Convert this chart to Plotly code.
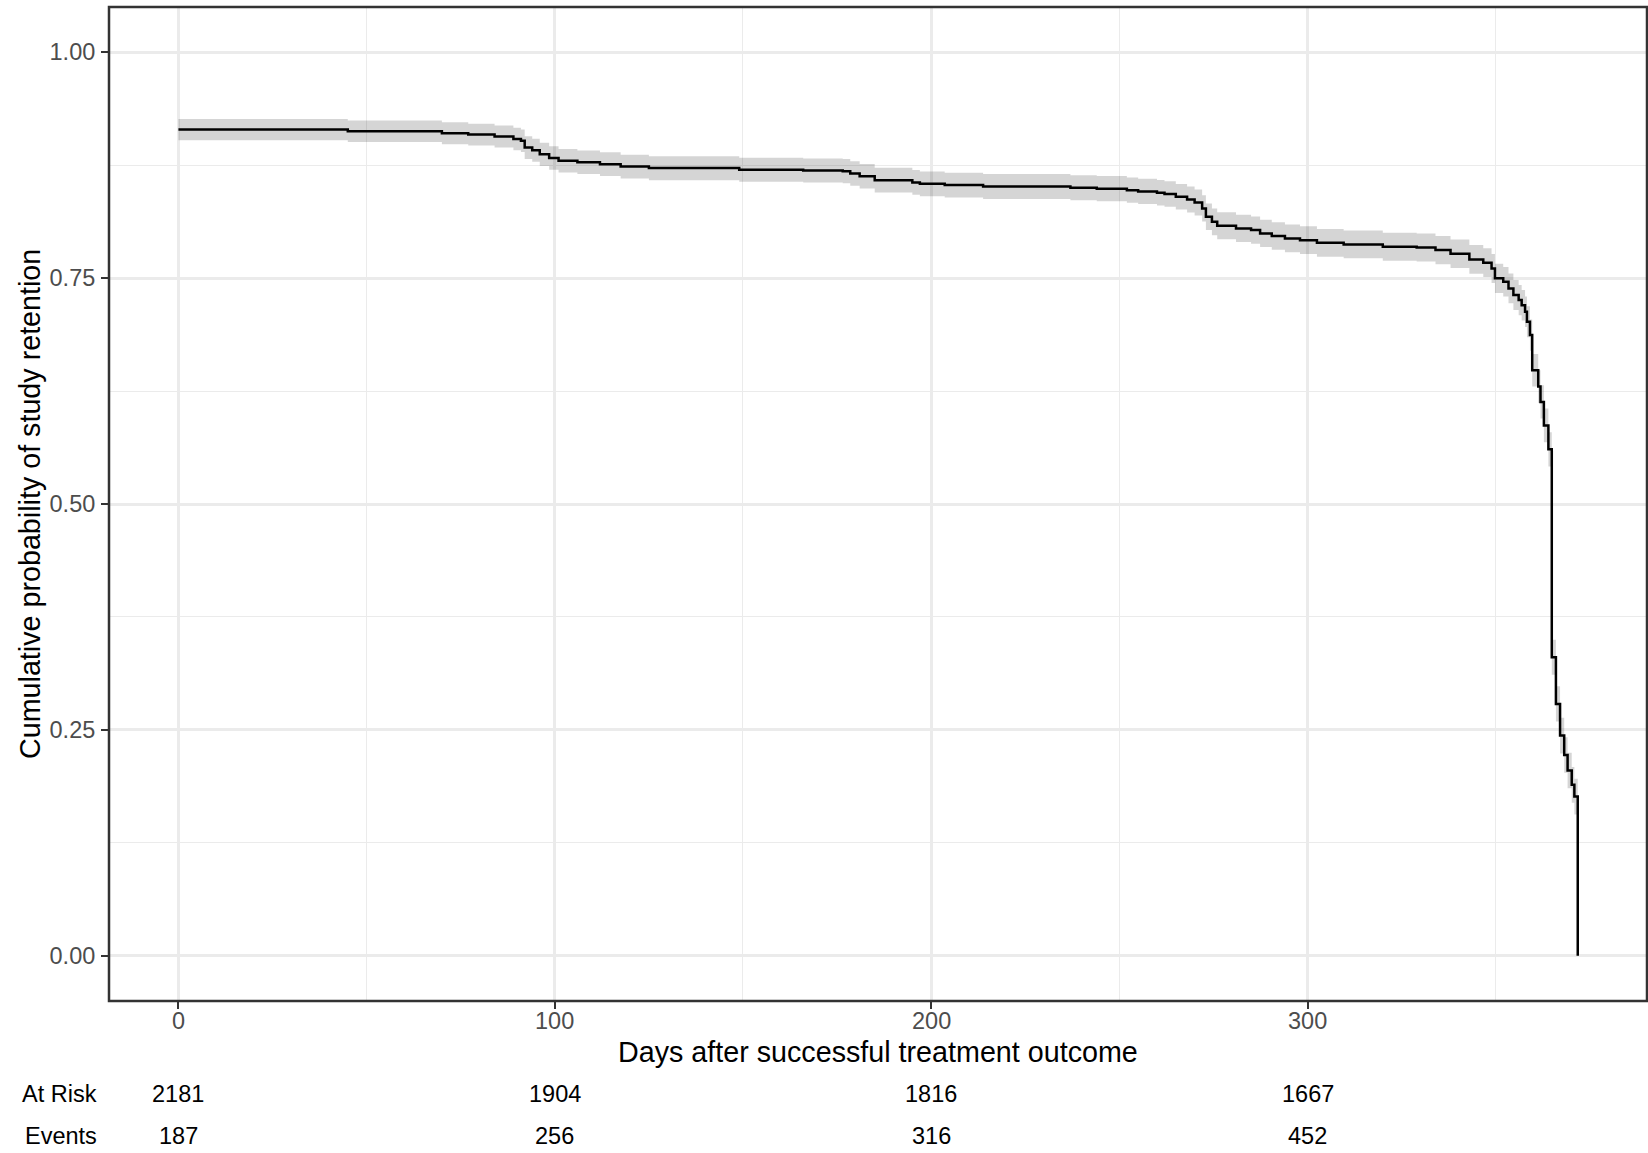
import plotly.graph_objects as go

# Kaplan-Meier estimate of study retention (step times in days)
time_days = [0, 45, 70, 77, 84, 89, 91, 92, 94, 96, 98.5, 101, 106, 112, 117.5, 125,
             149, 166, 176.5, 178.5, 181, 185, 195, 197, 203.6, 213.8, 237, 244, 252,
             255, 260, 262, 265, 268, 270, 272, 273, 274.6, 276, 281, 285, 287.4, 290.5,
             294, 298, 302.5, 309.6, 320, 329, 334, 338, 343, 346.7, 348.9, 349.8, 352,
             353.4, 354.7, 356.1, 356.9, 357.8, 358.3, 359.1, 359.7, 361.3, 361.9, 362.8,
             364.0, 364.9, 366.0, 367.1, 368.2, 369.1, 370.2, 370.9, 371.8]
surv_prob = [0.9145, 0.9126, 0.9104, 0.9088, 0.9067, 0.9040, 0.9020, 0.8945, 0.8916, 0.8870,
             0.8830, 0.8798, 0.8783, 0.8761, 0.8735, 0.8717, 0.8700, 0.8691, 0.8683, 0.8658,
             0.8628, 0.8584, 0.8558, 0.8543, 0.8529, 0.8514, 0.8500, 0.8490, 0.8473, 0.8459,
             0.8444, 0.8430, 0.8400, 0.8370, 0.8337, 0.8271, 0.8178, 0.8123, 0.8079, 0.8050,
             0.8031, 0.7994, 0.7965, 0.7939, 0.7920, 0.7890, 0.7873, 0.7846, 0.7839, 0.7810,
             0.7770, 0.7707, 0.7670, 0.7607, 0.7497, 0.7460, 0.7386, 0.7312, 0.7257, 0.7200,
             0.7127, 0.7017, 0.6870, 0.6480, 0.6300, 0.6130, 0.5870, 0.5605, 0.3304, 0.2788,
             0.2437, 0.2223, 0.2050, 0.1892, 0.1762, 0.0]
ci_lower = [0.9025, 0.9005, 0.8982, 0.8966, 0.8944, 0.8916, 0.8895, 0.8818, 0.8788, 0.8741,
            0.8700, 0.8668, 0.8652, 0.8630, 0.8603, 0.8584, 0.8567, 0.8557, 0.8549, 0.8523,
            0.8492, 0.8447, 0.8421, 0.8405, 0.8391, 0.8375, 0.8361, 0.8351, 0.8333, 0.8319,
            0.8303, 0.8289, 0.8258, 0.8227, 0.8193, 0.8126, 0.8031, 0.7975, 0.7930, 0.7900,
            0.7880, 0.7843, 0.7813, 0.7786, 0.7767, 0.7736, 0.7719, 0.7691, 0.7684, 0.7654,
            0.7613, 0.7549, 0.7511, 0.7447, 0.7334, 0.7297, 0.7221, 0.7146, 0.7090, 0.7032,
            0.6958, 0.6846, 0.6697, 0.6301, 0.6119, 0.5947, 0.5684, 0.5416, 0.3110, 0.2592,
            0.2240, 0.2026, 0.1853, 0.1695, 0.1565]
ci_upper = [0.9260, 0.9245, 0.9224, 0.9208, 0.9189, 0.9163, 0.9144, 0.9071, 0.9043, 0.8998,
            0.8959, 0.8928, 0.8913, 0.8892, 0.8866, 0.8849, 0.8833, 0.8824, 0.8817, 0.8792,
            0.8763, 0.8720, 0.8695, 0.8680, 0.8667, 0.8652, 0.8639, 0.8630, 0.8613, 0.8600,
            0.8585, 0.8571, 0.8542, 0.8513, 0.8481, 0.8416, 0.8325, 0.8271, 0.8228, 0.8200,
            0.8182, 0.8145, 0.8117, 0.8092, 0.8073, 0.8044, 0.8027, 0.8001, 0.7994, 0.7966,
            0.7927, 0.7865, 0.7829, 0.7767, 0.7660, 0.7623, 0.7551, 0.7478, 0.7424, 0.7368,
            0.7296, 0.7188, 0.7043, 0.6659, 0.6481, 0.6313, 0.6056, 0.5794, 0.3498, 0.2984,
            0.2634, 0.2420, 0.2247, 0.2089, 0.1959]

# Risk table below the axis
risk_times = [0, 100, 200, 300]
n_at_risk = [2181, 1904, 1816, 1667]
n_events = [187, 256, 316, 452]

x_ticks = [0, 100, 200, 300]
x_ticklabels = ["0", "100", "200", "300"]
y_ticks = [0.00, 0.25, 0.50, 0.75, 1.00]
y_ticklabels = ["0.00", "0.25", "0.50", "0.75", "1.00"]

FONT = "Liberation Sans, Arial, sans-serif"
TICK_COLOR = "#4D4D4D"
W, H = 1648, 1153
M_L, M_R, M_T, M_B = 109, 1, 7, 152
plot_h = H - M_T - M_B


def paper_y(py):
    return (H - M_B - py) / plot_h


def paper_x(px):
    return (px - M_L) / (W - M_L - M_R)


fig = go.Figure()

# Confidence band: the step ribbon runs until the last non-zero estimate
n_ci = len(ci_lower)
band_x = time_days[:n_ci] + [time_days[n_ci]]
fig.add_trace(go.Scatter(
    x=band_x, y=ci_lower + [ci_lower[-1]], mode="lines",
    line=dict(width=0, shape="hv"), hoverinfo="skip", showlegend=False))
fig.add_trace(go.Scatter(
    x=band_x, y=ci_upper + [ci_upper[-1]], mode="lines",
    line=dict(width=0, shape="hv"), fill="tonexty",
    fillcolor="rgba(0,0,0,0.165)", hoverinfo="skip", showlegend=False))

# Survival curve
fig.add_trace(go.Scatter(
    x=time_days, y=surv_prob, mode="lines",
    line=dict(color="black", width=2.5, shape="hv"), showlegend=False))

axis_common = dict(
    showgrid=True, gridcolor="#EBEBEB", gridwidth=2.5,
    zeroline=False, showline=False,
    ticks="outside", ticklen=7, tickwidth=2, tickcolor="#333333",
    tickfont=dict(family=FONT, size=23.5, color=TICK_COLOR),
)

fig.update_xaxes(
    range=[-18.45, 390.2], tickmode="array", tickvals=x_ticks,
    showticklabels=False,
    minor=dict(tickmode="array", tickvals=[50, 150, 250, 350],
               showgrid=True, gridcolor="#EBEBEB", gridwidth=1.4, ticks=""),
    **axis_common)
fig.update_yaxes(
    range=[-0.05, 1.05], tickmode="array", tickvals=y_ticks,
    ticktext=y_ticklabels, ticklabelstandoff=1,
    minor=dict(tickmode="array", tickvals=[0.125, 0.375, 0.625, 0.875],
               showgrid=True, gridcolor="#EBEBEB", gridwidth=1.4, ticks=""),
    **axis_common)

# Panel border
fig.add_shape(type="rect", xref="paper", yref="paper", x0=0, x1=1, y0=0, y1=1,
              line=dict(color="#333333", width=2.5), layer="above")

annotations = [
    dict(text="Days after successful treatment outcome", xref="paper", yref="paper",
         x=0.5, y=paper_y(1052), xanchor="center", yanchor="middle", showarrow=False,
         font=dict(family=FONT, size=28.7, color="black")),
    dict(text="Cumulative probability of study retention", xref="paper", yref="paper",
         x=paper_x(30), y=0.5, xanchor="center", yanchor="middle", textangle=-90,
         showarrow=False, font=dict(family=FONT, size=28.7, color="black")),
    dict(text="At Risk", xref="paper", yref="paper", x=paper_x(99), y=paper_y(1094),
         xanchor="right", yanchor="middle", showarrow=False,
         font=dict(family=FONT, size=23.5, color="black")),
    dict(text="Events", xref="paper", yref="paper", x=paper_x(99), y=paper_y(1136),
         xanchor="right", yanchor="middle", showarrow=False,
         font=dict(family=FONT, size=23.5, color="black")),
]
# x tick labels
for t, lab in zip(x_ticks, x_ticklabels):
    annotations.append(dict(text=lab, xref="x", yref="paper", x=t, y=paper_y(1021),
                            xanchor="center", yanchor="middle", showarrow=False,
                            font=dict(family=FONT, size=23.5, color=TICK_COLOR)))
for t, r, e in zip(risk_times, n_at_risk, n_events):
    annotations.append(dict(text=str(r), xref="x", yref="paper", x=t, y=paper_y(1094),
                            xanchor="center", yanchor="middle", showarrow=False,
                            font=dict(family=FONT, size=23.5, color="black")))
    annotations.append(dict(text=str(e), xref="x", yref="paper", x=t, y=paper_y(1136),
                            xanchor="center", yanchor="middle", showarrow=False,
                            font=dict(family=FONT, size=23.5, color="black")))

fig.update_layout(
    width=W, height=H, autosize=False,
    margin=dict(l=M_L, r=M_R, t=M_T, b=M_B, pad=0),
    paper_bgcolor="white", plot_bgcolor="white",
    annotations=annotations, showlegend=False,
    font=dict(family=FONT),
)

fig.write_html("out.html")
